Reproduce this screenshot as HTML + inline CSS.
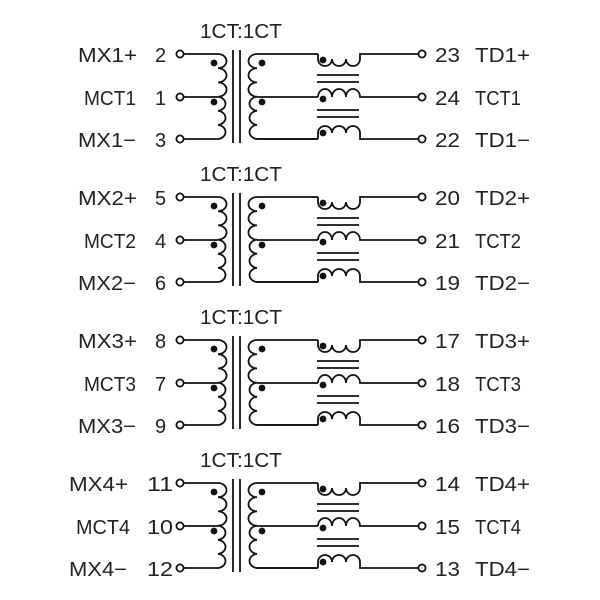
<!DOCTYPE html>
<html><head><style>
html,body{margin:0;padding:0;background:#fff;}
svg{display:block;}
text{font-family:"Liberation Sans",sans-serif;font-size:20px;fill:#222;}
</style></head><body>
<svg width="600" height="600" viewBox="0 0 600 600" xmlns="http://www.w3.org/2000/svg">
<defs>
<g id="blk" fill="none" stroke="#111" stroke-width="1.8">
  <text x="200" y="-16" textLength="82" lengthAdjust="spacingAndGlyphs" stroke="none">1CT:1CT</text>
  <circle cx="180" cy="0" r="3.6" fill="#fff"/>
  <circle cx="180" cy="43" r="3.6" fill="#fff"/>
  <circle cx="180" cy="85" r="3.6" fill="#fff"/>
  <circle cx="422" cy="0" r="3.6" fill="#fff"/>
  <circle cx="422" cy="43" r="3.6" fill="#fff"/>
  <circle cx="422" cy="85" r="3.6" fill="#fff"/>
  <path d="M184,0 H218 a8.5,7.1 0 0 1 0,14.2 a8.5,7.1 0 0 1 0,14.2 a8.5,7.1 0 0 1 0,14.3 a8.5,7.1 0 0 1 0,14.1 a8.5,7.1 0 0 1 0,14.1 a8.5,7.1 0 0 1 0,14.1 H184"/>
  <path d="M184,43 H218"/>
  <path d="M233,-4 V89 M240,-4 V89"/>
  <path d="M318,0 H257 a8.5,7.1 0 0 0 0,14.2 a8.5,7.1 0 0 0 0,14.2 a8.5,7.1 0 0 0 0,14.3 a8.5,7.1 0 0 0 0,14.1 a8.5,7.1 0 0 0 0,14.1 a8.5,7.1 0 0 0 0,14.1 H318"/>
  <path d="M257,43 H318"/>
  <path d="M318,0 v5 a7,7 0 0 0 14,0 a7,7 0 0 0 14,0 a7,7 0 0 0 14,0 v-5 H418"/>
  <path d="M318,43 a7,8 0 0 1 14,0 a7,8 0 0 1 14,0 a7,8 0 0 1 14,0 H418"/>
  <path d="M318,85 v-6 a7,7 0 0 1 14,0 a7,7 0 0 1 14,0 a7,7 0 0 1 14,0 v6 H418"/>
  <path d="M318,85 H257"/>
  <path d="M317,21 H359 M317,28 H359 M317,56 H359 M317,63 H359"/>
  <g fill="#111" stroke="none">
    <circle cx="214" cy="9" r="3.4"/>
    <circle cx="214" cy="48" r="3.4"/>
    <circle cx="262" cy="9" r="3.4"/>
    <circle cx="262" cy="48" r="3.4"/>
    <circle cx="323" cy="6" r="3.4"/>
    <circle cx="323" cy="45" r="3.4"/>
    <circle cx="323" cy="79" r="3.4"/>
  </g>
</g>
</defs>
<g transform="translate(0,54)"><use href="#blk"/>
<text x="78" y="8" textLength="59" lengthAdjust="spacingAndGlyphs">MX1+</text><text x="155" y="8">2</text>
<text x="84" y="51" textLength="52" lengthAdjust="spacingAndGlyphs">MCT1</text><text x="155" y="51">1</text>
<text x="78" y="93" textLength="58" lengthAdjust="spacingAndGlyphs">MX1−</text><text x="155" y="93">3</text>
<text x="435" y="8" textLength="25" lengthAdjust="spacingAndGlyphs">23</text><text x="475" y="8" textLength="55" lengthAdjust="spacingAndGlyphs">TD1+</text>
<text x="435" y="51" textLength="25" lengthAdjust="spacingAndGlyphs">24</text><text x="475" y="51" textLength="46" lengthAdjust="spacingAndGlyphs">TCT1</text>
<text x="435" y="93" textLength="25" lengthAdjust="spacingAndGlyphs">22</text><text x="475" y="93" textLength="55" lengthAdjust="spacingAndGlyphs">TD1−</text>
</g>
<g transform="translate(0,197)"><use href="#blk"/>
<text x="78" y="8" textLength="59" lengthAdjust="spacingAndGlyphs">MX2+</text><text x="155" y="8">5</text>
<text x="84" y="51" textLength="52" lengthAdjust="spacingAndGlyphs">MCT2</text><text x="155" y="51">4</text>
<text x="78" y="93" textLength="58" lengthAdjust="spacingAndGlyphs">MX2−</text><text x="155" y="93">6</text>
<text x="435" y="8" textLength="25" lengthAdjust="spacingAndGlyphs">20</text><text x="475" y="8" textLength="55" lengthAdjust="spacingAndGlyphs">TD2+</text>
<text x="435" y="51" textLength="25" lengthAdjust="spacingAndGlyphs">21</text><text x="475" y="51" textLength="46" lengthAdjust="spacingAndGlyphs">TCT2</text>
<text x="435" y="93" textLength="25" lengthAdjust="spacingAndGlyphs">19</text><text x="475" y="93" textLength="55" lengthAdjust="spacingAndGlyphs">TD2−</text>
</g>
<g transform="translate(0,340)"><use href="#blk"/>
<text x="78" y="8" textLength="59" lengthAdjust="spacingAndGlyphs">MX3+</text><text x="155" y="8">8</text>
<text x="84" y="51" textLength="52" lengthAdjust="spacingAndGlyphs">MCT3</text><text x="155" y="51">7</text>
<text x="78" y="93" textLength="58" lengthAdjust="spacingAndGlyphs">MX3−</text><text x="155" y="93">9</text>
<text x="435" y="8" textLength="25" lengthAdjust="spacingAndGlyphs">17</text><text x="475" y="8" textLength="55" lengthAdjust="spacingAndGlyphs">TD3+</text>
<text x="435" y="51" textLength="25" lengthAdjust="spacingAndGlyphs">18</text><text x="475" y="51" textLength="46" lengthAdjust="spacingAndGlyphs">TCT3</text>
<text x="435" y="93" textLength="25" lengthAdjust="spacingAndGlyphs">16</text><text x="475" y="93" textLength="55" lengthAdjust="spacingAndGlyphs">TD3−</text>
</g>
<g transform="translate(0,483)"><use href="#blk"/>
<text x="69" y="8" textLength="59" lengthAdjust="spacingAndGlyphs">MX4+</text><text x="147" y="8" textLength="26" lengthAdjust="spacingAndGlyphs">11</text>
<text x="76" y="51" textLength="54" lengthAdjust="spacingAndGlyphs">MCT4</text><text x="147" y="51" textLength="26" lengthAdjust="spacingAndGlyphs">10</text>
<text x="69" y="93" textLength="58" lengthAdjust="spacingAndGlyphs">MX4−</text><text x="147" y="93" textLength="26" lengthAdjust="spacingAndGlyphs">12</text>
<text x="435" y="8" textLength="25" lengthAdjust="spacingAndGlyphs">14</text><text x="475" y="8" textLength="55" lengthAdjust="spacingAndGlyphs">TD4+</text>
<text x="435" y="51" textLength="25" lengthAdjust="spacingAndGlyphs">15</text><text x="475" y="51" textLength="46" lengthAdjust="spacingAndGlyphs">TCT4</text>
<text x="435" y="93" textLength="25" lengthAdjust="spacingAndGlyphs">13</text><text x="475" y="93" textLength="55" lengthAdjust="spacingAndGlyphs">TD4−</text>
</g>
</svg>
</body></html>
